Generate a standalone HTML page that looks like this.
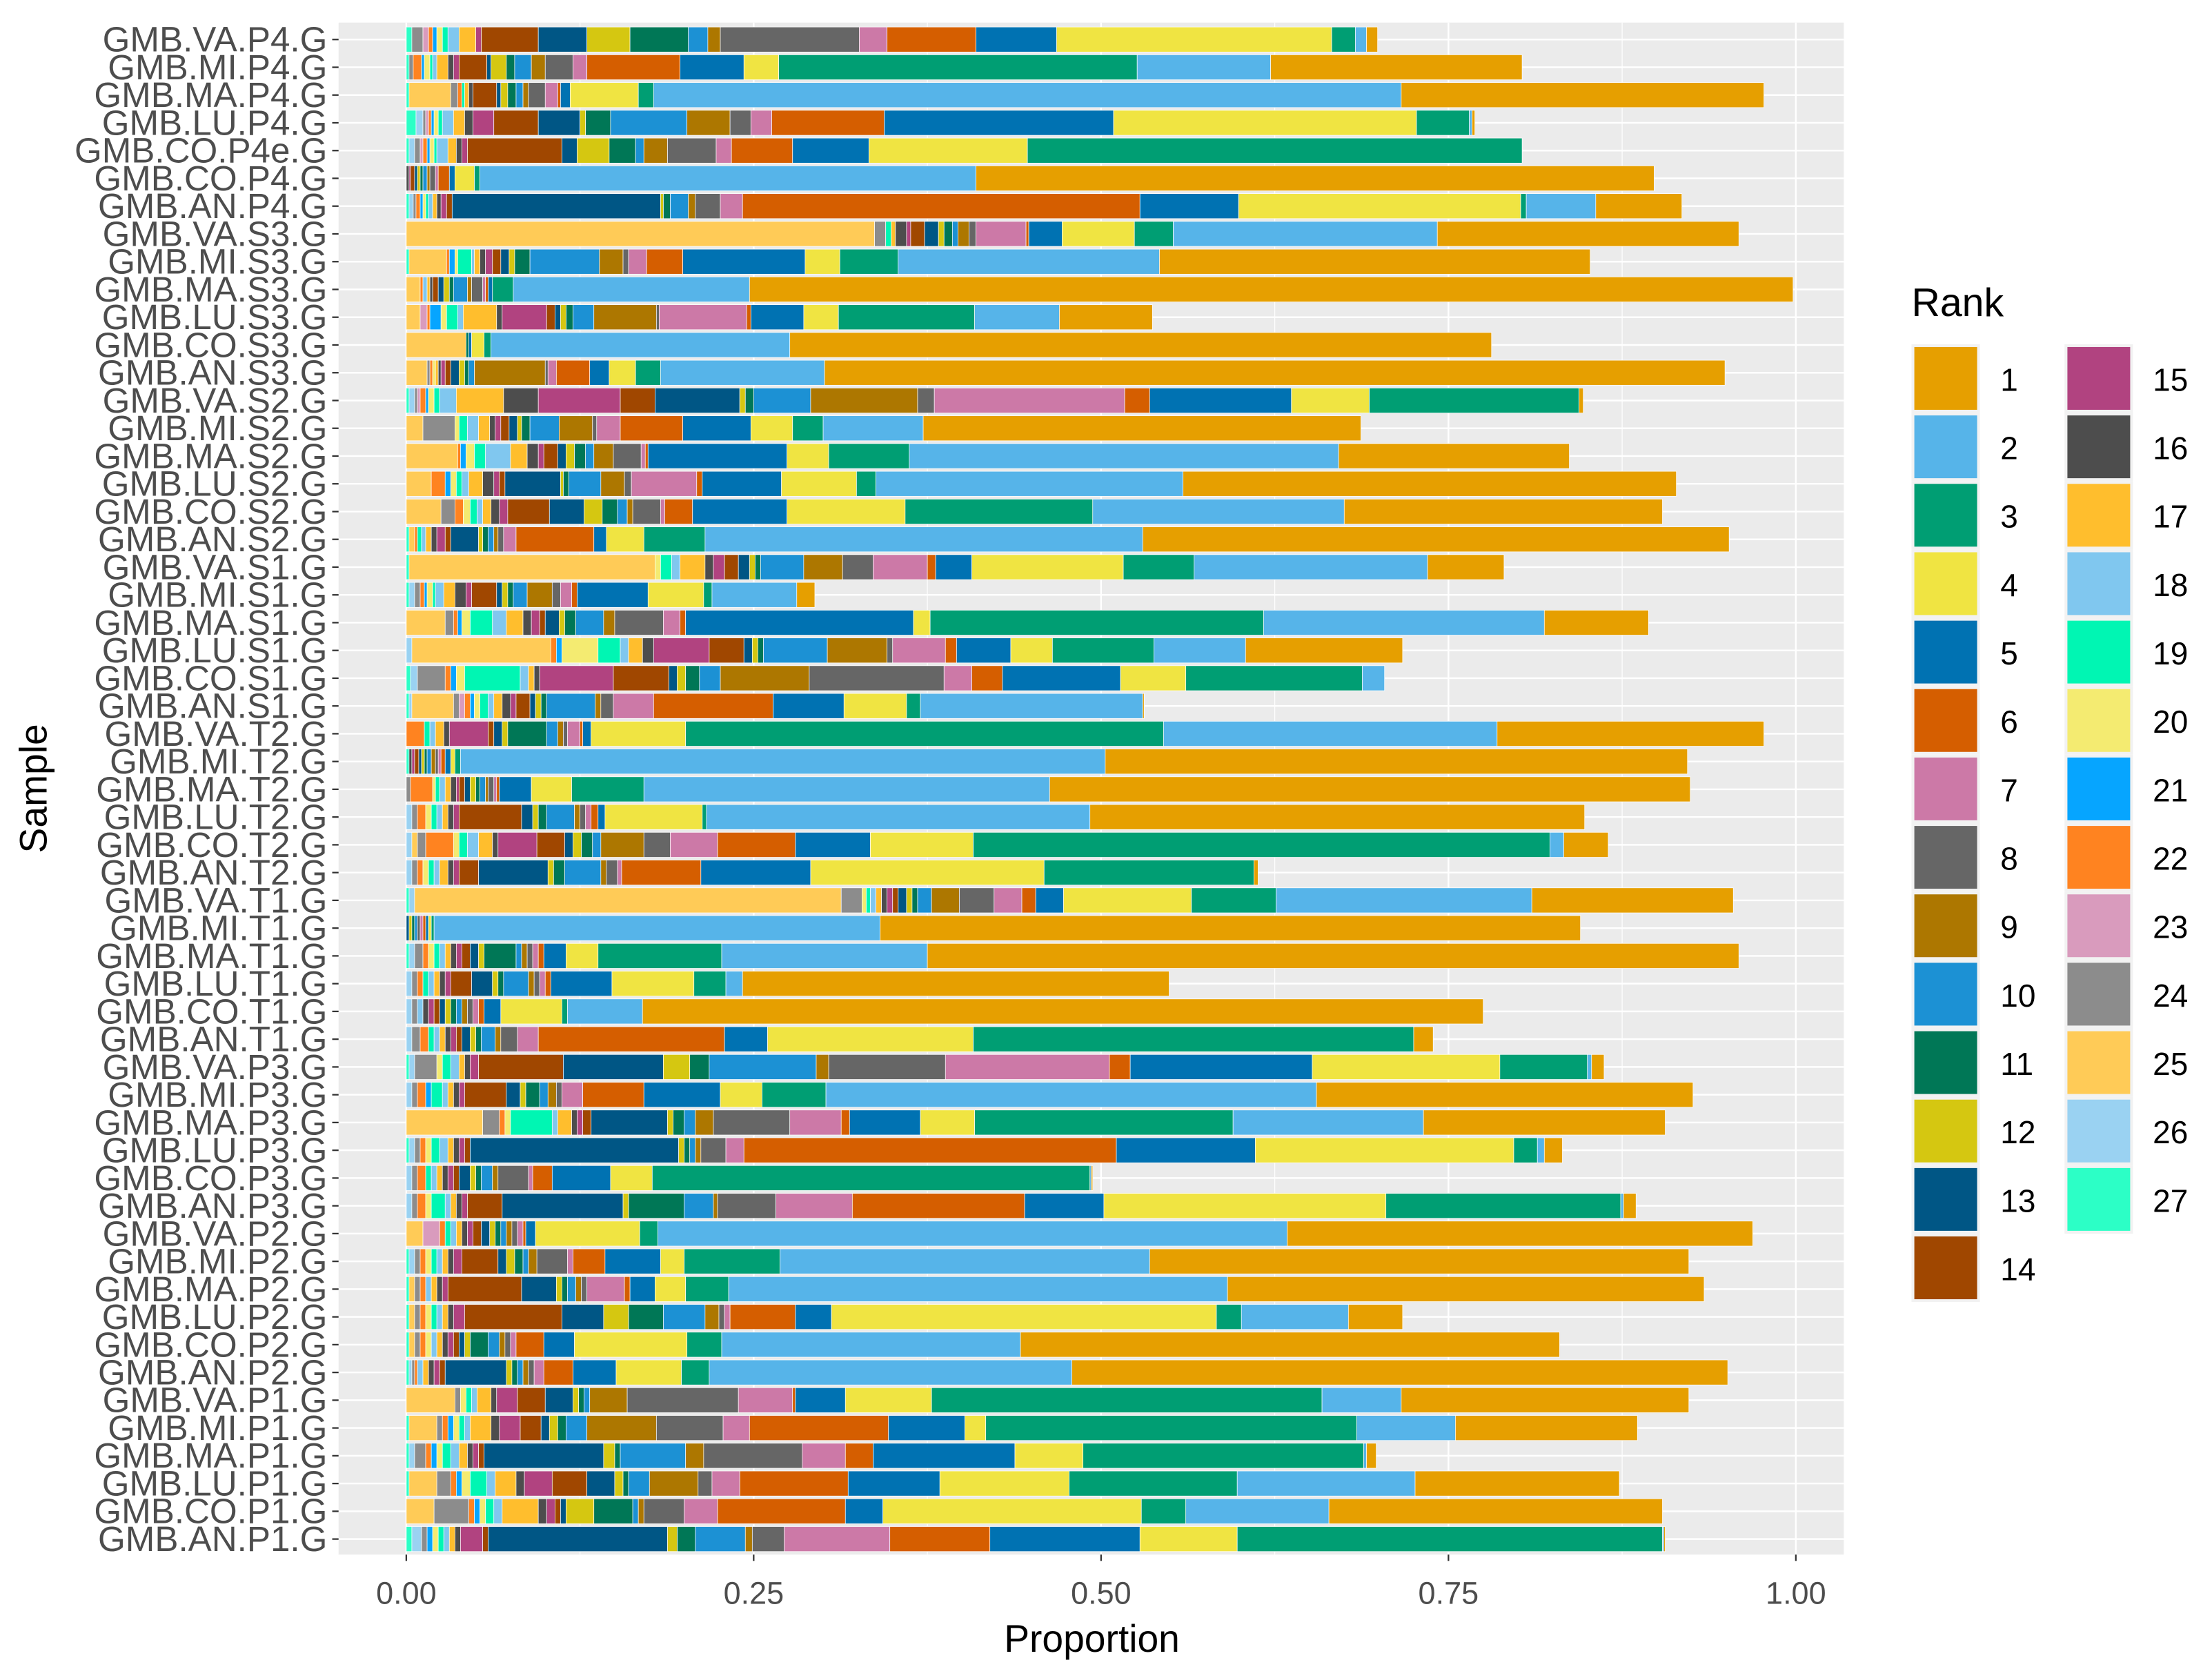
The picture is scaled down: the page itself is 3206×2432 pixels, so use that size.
<!DOCTYPE html>
<html><head><meta charset="utf-8"><style>
html,body{margin:0;padding:0;background:#fff;}
svg{display:block;font-family:"Liberation Sans",Arial,sans-serif;}
</style></head><body>
<svg id="chart" width="3206" height="2432" viewBox="0 0 1568 1189.5" preserveAspectRatio="none" xmlns="http://www.w3.org/2000/svg">
<rect x="0" y="0" width="1568" height="1189.5" fill="#fff"/>
<rect x="240" y="16" width="1067" height="1086" fill="#EBEBEB"/>
<g id="grid"></g><g id="bars"></g><g id="yaxis"></g><g id="xaxis"></g><g id="legend"></g>
<text x="774" y="1171" font-size="27" text-anchor="middle" fill="#000">Proportion</text>
<text transform="translate(33,559) rotate(-90)" font-size="27" text-anchor="middle" fill="#000">Sample</text>
<text x="1355" y="224" font-size="28" fill="#000">Rank</text>
</svg>
<script>
const samples = ["GMB.VA.P4.G","GMB.MI.P4.G","GMB.MA.P4.G","GMB.LU.P4.G","GMB.CO.P4e.G","GMB.CO.P4.G","GMB.AN.P4.G",
"GMB.VA.S3.G","GMB.MI.S3.G","GMB.MA.S3.G","GMB.LU.S3.G","GMB.CO.S3.G","GMB.AN.S3.G",
"GMB.VA.S2.G","GMB.MI.S2.G","GMB.MA.S2.G","GMB.LU.S2.G","GMB.CO.S2.G","GMB.AN.S2.G",
"GMB.VA.S1.G","GMB.MI.S1.G","GMB.MA.S1.G","GMB.LU.S1.G","GMB.CO.S1.G","GMB.AN.S1.G",
"GMB.VA.T2.G","GMB.MI.T2.G","GMB.MA.T2.G","GMB.LU.T2.G","GMB.CO.T2.G","GMB.AN.T2.G",
"GMB.VA.T1.G","GMB.MI.T1.G","GMB.MA.T1.G","GMB.LU.T1.G","GMB.CO.T1.G","GMB.AN.T1.G",
"GMB.VA.P3.G","GMB.MI.P3.G","GMB.MA.P3.G","GMB.LU.P3.G","GMB.CO.P3.G","GMB.AN.P3.G",
"GMB.VA.P2.G","GMB.MI.P2.G","GMB.MA.P2.G","GMB.LU.P2.G","GMB.CO.P2.G","GMB.AN.P2.G",
"GMB.VA.P1.G","GMB.MI.P1.G","GMB.MA.P1.G","GMB.LU.P1.G","GMB.CO.P1.G","GMB.AN.P1.G"];
const ranks = ["1","2","3","4","5","6","7","8","9","10","11","12","13","14","15","16","17","18","19","20","21","22","23","24","25","26","27"];
const rankColors = ["#E69F00","#56B4E9","#009E73","#F0E442","#0072B2","#D55E00","#CC79A7","#666666","#AD7700","#1C91D4","#007756","#D5C711","#005685","#A04700","#B14380","#4D4D4D","#FFBE2D","#80C7EF","#00F6B3","#F4EB71","#06A5FF","#FF8320","#D99BBD","#8C8C8C","#FFCB57","#9AD2F2","#2CFFC6"];
const xTicks = [0,0.25,0.5,0.75,1];
const xTickLabels = ["0.00","0.25","0.50","0.75","1.00"];
// proportions per sample, indexed by rank 1..27
const values = [
[.008,.008,.017,.198,.058,.064,.02,.1,.009,.014,.042,.031,.035,.041,.004,0,.012,.008,.004,.004,.003,.003,.004,.008,0,0,.004],
[.181,.096,.258,.025,.046,.067,.01,.02,.01,.012,.006,.011,.003,.02,.004,.004,.008,.003,.002,.004,.002,.006,0,.003,0,0,.002],
[.261,.538,.011,.049,.007,.002,.009,.012,.004,.005,.006,.005,.003,.017,0,.003,.003,0,.002,0,0,.003,0,.005,.03,0,.002],
[.002,.002,.038,.218,.165,.081,.015,.015,.031,.055,.018,.004,.03,.032,.015,.006,.008,.008,.003,.003,.002,.002,.002,.002,0,.005,.007],
[0,0,.356,.114,.055,.044,.011,.035,.017,.006,.019,.023,.011,.068,.004,.004,.006,.008,.002,.003,.002,.003,.002,.004,0,.004,.002],
[.488,.357,.004,.014,.004,.008,.002,.004,.002,.003,.002,.002,.002,.003,.001,.002,0,0,0,0,0,0,0,0,0,0,0],
[.062,.05,.004,.203,.071,.286,.016,.018,.005,.013,.005,.002,.15,.004,.004,.003,.003,.003,.002,.002,.002,.003,0,.002,0,.003,.002],
[.217,.19,.028,.052,.024,.002,.036,.005,.008,.004,.006,.004,.01,.01,.003,.008,.003,0,.004,0,0,0,0,.008,.337,0,0],
[.31,.188,.042,.025,.088,.026,.013,.004,.017,.05,.011,.004,.006,.006,.005,.004,.004,.002,.01,.002,.004,.002,0,0,.027,0,.002],
[.751,.17,.015,0,.003,.002,.002,.008,.003,.01,.003,.004,.004,.004,0,.002,.002,.003,0,0,0,.002,0,0,.01,0,0],
[.067,.061,.098,.025,.038,.003,.063,.002,.045,.015,.005,.004,.004,.006,.032,.004,.024,.004,.008,.004,.008,.002,.005,0,.01,0,0],
[.505,.215,.005,.009,.002,0,0,0,0,0,.002,0,0,0,0,0,0,0,0,0,0,0,0,0,.043,0,0],
[.648,.118,.018,.019,.014,.024,.006,.002,.051,.004,.003,.004,.006,.004,.003,.002,.002,0,0,.002,0,.002,0,.002,.015,0,0],
[.003,0,.151,.056,.102,.018,.137,.012,.077,.041,.006,.004,.061,.025,.059,.025,.034,.012,.004,.004,.002,.004,.002,.002,0,.004,.002],
[.315,.072,.022,.03,.049,.045,.017,.003,.024,.021,.006,.003,.006,.006,.004,.004,.008,.008,.006,.003,0,0,0,.023,.012,0,0],
[.166,.309,.058,.03,.1,.002,.003,.02,.014,.006,.008,.006,.006,.01,.004,.008,.012,.018,.008,.006,.004,.002,0,0,.037,0,0],
[.355,.221,.014,.054,.057,.004,.047,.005,.017,.023,.004,.002,.04,.004,.004,.008,.01,.005,.004,.004,.004,.01,0,0,.018,0,0],
[.229,.181,.135,.085,.068,.02,.003,.02,.004,.007,.011,.013,.025,.03,.006,.006,.006,.004,.005,.005,0,.006,0,.01,.025,0,0],
[.422,.315,.044,.027,.009,.056,.009,.004,.003,.004,.004,.003,.02,.004,.006,.004,.004,.003,.003,0,0,.002,0,0,.004,0,.002],
[.055,.168,.051,.109,.026,.006,.039,.022,.028,.031,.004,.004,.008,.01,.008,.006,.018,.006,.008,.004,0,0,0,0,.177,0,.002],
[.013,.061,.006,.04,.051,.004,.008,.006,.018,.01,.004,.004,.004,.018,.004,.008,.008,.006,.002,.004,.002,.003,0,.004,0,.004,.002],
[.075,.202,.24,.012,.164,.004,.012,.035,.008,.02,.008,.004,.01,.004,.006,.006,.012,.01,.016,.006,.003,.003,0,.006,.028,0,0],
[.113,.066,.073,.03,.039,.008,.038,.004,.043,.046,.004,.004,.006,.025,.04,.008,.01,.006,.016,.026,.004,.004,0,0,.1,.004,0],
[0,.016,.127,.047,.085,.022,.02,.097,.064,.015,.01,.006,.006,.04,.053,.004,.004,.006,.04,.006,.004,.004,0,.02,0,.005,.003],
[.001,.16,.01,.045,.051,.086,.029,.009,.004,.035,.004,.004,.004,.01,.004,.006,.006,.004,.006,.004,.003,.004,.004,.004,.03,.002,.002],
[.192,.24,.344,.068,.006,.002,.009,.003,.004,.008,.028,.004,.006,.004,.028,.004,.006,.004,.004,0,0,.013,0,0,0,0,0],
[.419,.464,.004,.003,.004,.003,.002,.002,.003,.003,.002,.002,.002,.003,.002,.002,0,0,0,0,0,0,0,0,0,0,.002],
[.461,.292,.052,.029,.023,.002,.002,.004,.002,.004,.003,.004,.004,.004,.002,.004,.004,.004,.003,.002,0,.016,0,.003,0,0,0],
[.356,.276,.003,.07,.005,.005,.004,.004,.004,.02,.006,.004,.008,.045,.004,.004,.004,.004,.004,.004,0,.006,0,.004,0,.004,0],
[.032,.01,.415,.074,.054,.056,.034,.019,.031,.006,.008,.006,.006,.02,.028,.004,.01,.008,.006,.004,0,.02,0,.006,.004,.004,0],
[.003,0,.151,.168,.079,.057,.003,.008,.004,.026,.008,.004,.05,.014,.004,.004,.006,.004,.004,.004,0,.004,0,.004,0,.004,0],
[.145,.184,.061,.092,.02,.01,.02,.025,.02,.01,.004,.004,.006,.004,.004,.004,.004,.004,.003,.003,0,0,0,.015,.307,.004,.002],
[.504,.321,.002,.002,.002,.002,.002,.002,0,.002,.002,.002,.002,0,0,0,0,0,0,0,0,0,0,0,0,0,0],
[.584,.148,.089,.023,.016,.004,.004,.004,.004,.004,.023,.004,.006,.006,.004,.004,.004,.004,.004,.004,0,.004,0,.006,0,.004,.002],
[.307,.012,.023,.059,.044,.004,.004,.004,.004,.018,.004,.004,.015,.015,.004,.004,.004,.004,.004,0,0,.004,0,.004,0,.004,0],
[.605,.054,.004,.044,.012,.004,.004,.004,.004,.004,.004,.004,.004,.004,.004,.004,0,.004,0,0,0,0,0,.004,0,.004,0],
[.014,0,.317,.148,.031,.134,.015,.012,.004,.01,.004,.004,.006,.004,.004,.004,.004,.004,.004,0,0,.006,0,.006,0,.004,0],
[.009,.003,.063,.135,.131,.015,.118,.084,.009,.077,.014,.019,.072,.061,.006,.004,.004,.006,.006,.004,0,0,0,.016,0,.004,.002],
[.271,.353,.046,.03,.055,.044,.015,.004,.006,.006,.01,.004,.01,.03,.004,.004,.004,.004,.008,0,.004,.006,0,.004,0,.004,0],
[.174,.137,.186,.039,.051,.006,.037,.055,.013,.008,.008,.004,.055,.006,.004,.004,.01,.004,.03,.004,0,.004,0,.012,.055,0,0],
[.013,.005,.017,.186,.1,.268,.013,.018,.004,.004,.004,.004,.15,.004,.004,.004,.004,.006,.006,.004,0,.004,0,.004,0,.004,.002],
[.001,.001,.315,.03,.042,.014,.003,.022,.004,.008,.004,.004,.008,.004,.004,.004,.004,.004,.004,0,0,.006,0,.004,0,.004,0],
[.009,.002,.169,.203,.057,.124,.055,.042,.003,.021,.04,.004,.087,.025,.004,.004,.004,.004,.01,.004,0,.006,0,.004,0,.004,0],
[.335,.453,.013,.075,.007,.002,.004,.004,.004,.004,.004,.004,.006,.006,.004,.004,.004,.004,.004,0,0,.004,.012,0,.012,0,0],
[.388,.266,.069,.017,.04,.023,.004,.022,.006,.004,.006,.006,.006,.026,.006,.004,.004,.004,.004,.004,0,.004,0,.004,0,.004,.002],
[.343,.359,.031,.022,.018,.004,.027,.004,.004,.006,.004,.004,.025,.053,.004,.004,.004,.004,0,0,0,.004,0,.004,.004,0,.002],
[.039,.077,.018,.277,.026,.047,.004,.004,.01,.03,.025,.018,.03,.07,.008,.004,.004,.004,.004,.004,0,.004,0,.004,.004,0,.002],
[.388,.215,.025,.081,.022,.02,.004,.004,.004,.008,.013,.004,.004,.004,.004,.004,.004,.004,0,.004,0,.004,0,.004,.004,0,.002],
[.472,.261,.02,.047,.031,.021,.007,.004,.004,.004,.004,.004,.044,.004,.004,.004,.004,.004,0,0,0,.002,0,.002,0,.002,.002],
[.207,.057,.281,.062,.036,.002,.039,.08,.027,.004,.004,.004,.02,.02,.015,.004,.01,.004,.004,.004,0,0,0,.004,.035,0,0],
[.131,.071,.267,.015,.055,.1,.019,.048,.05,.015,.006,.006,.006,.015,.015,.006,.015,.004,.004,.004,.004,.004,0,.004,.02,0,.002],
[.007,.002,.202,.049,.102,.02,.031,.071,.013,.047,.004,.008,.086,.004,.004,.004,.006,.006,.006,.004,.004,.004,0,.008,0,.004,.002],
[.147,.128,.121,.093,.066,.078,.02,.01,.035,.015,.004,.006,.02,.025,.02,.006,.015,.006,.012,.006,.004,.004,0,.01,.02,0,.002],
[.24,.103,.032,.186,.027,.092,.024,.029,.004,.004,.028,.02,.004,.004,.006,.006,.026,.006,.006,.004,.004,.004,0,.025,.02,0,0],
[.001,.001,.306,.07,.108,.072,.076,.023,.005,.036,.013,.007,.129,.004,.016,.004,.004,.004,.004,.004,.004,0,0,.004,0,.007,.004]
];

const NS = "http://www.w3.org/2000/svg";
const X0 = 288, XW = 985, Y0 = 28, YSTEP = (1091 - 28) / 54, BARH = 17.7;
function xScale(v){ return X0 + v * XW; }
function yScale(i){ return Y0 + i * YSTEP; }
function mk(tag, attrs, parent){ const e = document.createElementNS(NS, tag); for (const k in attrs) e.setAttribute(k, attrs[k]); parent.appendChild(e); return e; }

const grid = document.getElementById('grid');
for (let i = 0; i < xTicks.length - 1; i++) {
  const m = (xTicks[i] + xTicks[i+1]) / 2;
  const l = mk('line', {x1: xScale(m), x2: xScale(m), y1: 16, y2: 1102, stroke: '#fff', 'stroke-width': 0.6}, grid);
  
  
}
xTicks.forEach(t => {
  const l = mk('line', {x1: xScale(t), x2: xScale(t), y1: 16, y2: 1102, stroke: '#fff', 'stroke-width': 1.2}, grid);
  
  
});
samples.forEach((s, i) => {
  const l = mk('line', {x1: 240, x2: 1307, y1: yScale(i), y2: yScale(i), stroke: '#fff', 'stroke-width': 1.2}, grid);
  
  
});

const bars = document.getElementById('bars');
samples.forEach((s, i) => {
  const g = mk('g', {}, bars);
  
  
  const vals = values[i];
  let cum = 0;
  for (let r = ranks.length - 1; r >= 0; r--) {
    const v = vals[r] || 0;
    if (v <= 0) continue;
    const rect = mk('rect', {x: xScale(cum), y: yScale(i) - BARH/2, width: v * XW, height: BARH, fill: rankColors[r], stroke: '#fff', 'stroke-width': 0.35}, g);
    
    
    cum += v;
  }
});

const yaxis = document.getElementById('yaxis');
samples.forEach((s, i) => {
  const t = mk('line', {x1: 235.5, x2: 240, y1: yScale(i), y2: yScale(i), stroke: '#333', 'stroke-width': 1.1}, yaxis);
  
  
  const lb = mk('text', {x: 232, y: yScale(i) + 8.5, 'font-size': 25, 'text-anchor': 'end', fill: '#4D4D4D'}, yaxis);
  lb.textContent = s;
  
  
});

const xaxis = document.getElementById('xaxis');
xTicks.forEach((t, i) => {
  const l = mk('line', {x1: xScale(t), x2: xScale(t), y1: 1102, y2: 1106.5, stroke: '#333', 'stroke-width': 1.1}, xaxis);
  
  
  const lb = mk('text', {x: xScale(t), y: 1137, 'font-size': 22, 'text-anchor': 'middle', fill: '#4D4D4D'}, xaxis);
  lb.textContent = xTickLabels[i];
  
  
});

const legend = document.getElementById('legend');
ranks.forEach((r, i) => {
  const col = i < 14 ? 0 : 1;
  const row = i < 14 ? i : i - 14;
  const kx = col === 0 ? 1355 : 1463.5;
  const ky = 244 + row * 48.5;
  const g = mk('g', {}, legend);
  
  
  mk('rect', {x: kx, y: ky, width: 48.5, height: 48.5, fill: '#F2F2F2'}, g);
  mk('rect', {x: kx + 2, y: ky + 2, width: 44.5, height: 44.5, fill: rankColors[i]}, g);
  const lb = mk('text', {x: col === 0 ? 1418 : 1526, y: ky + 33, 'font-size': 22.5, fill: '#000'}, g);
  lb.textContent = r;
});
</script>
</body></html>
